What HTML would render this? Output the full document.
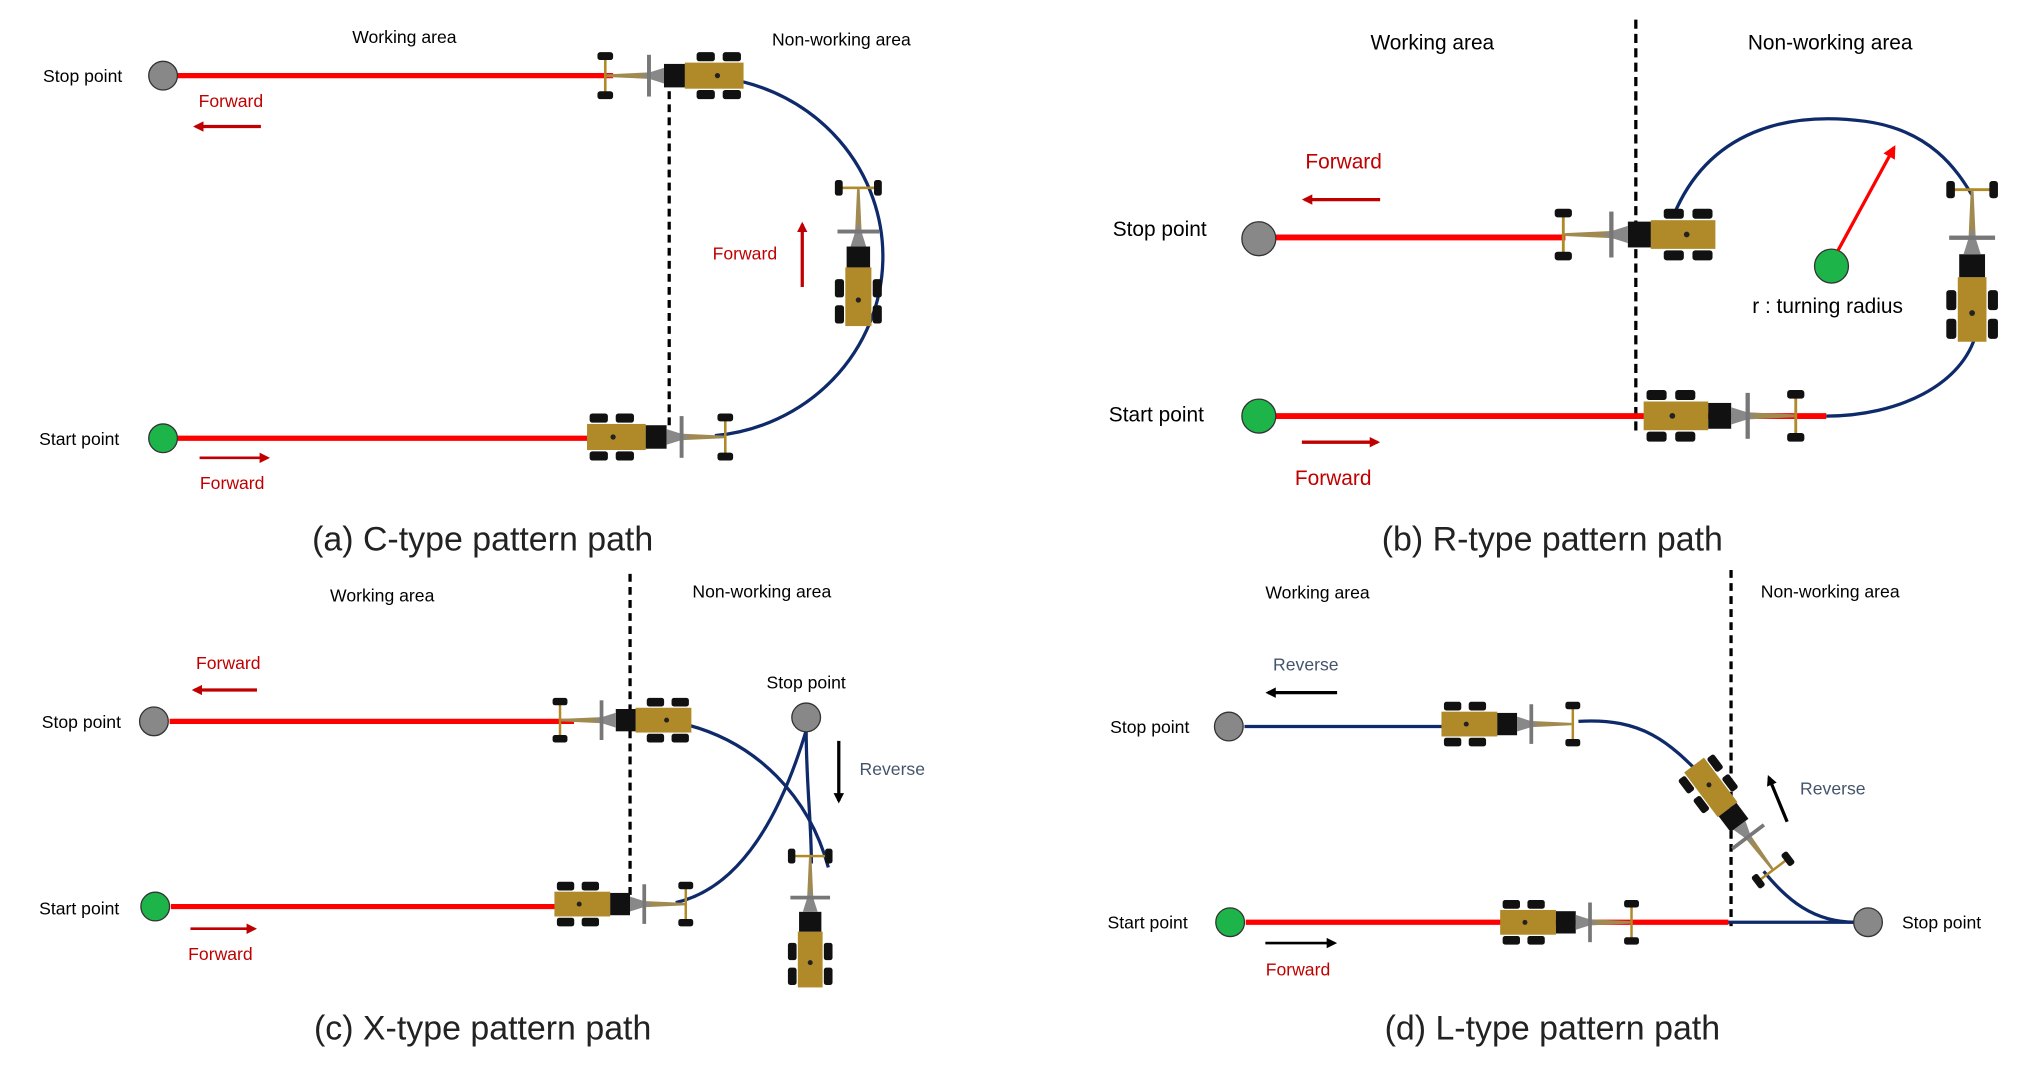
<!DOCTYPE html>
<html><head><meta charset="utf-8"><style>
html,body{margin:0;padding:0;background:#fff;}
svg{display:block;}
text{font-family:"Liberation Sans","NanumGothic",sans-serif;}
.l{font-size:13.5px;fill:#000;}
.lb{font-size:16px;fill:#000;}
.r{font-size:13.5px;fill:#c00000;}
.rb{font-size:16px;fill:#c00000;}
.g{font-size:13.5px;fill:#44546a;}
.cap{font-size:26px;fill:#222;font-weight:300;}
</style></head><body>
<svg width="2035" height="1067" viewBox="0 0 1560 818" preserveAspectRatio="none" xmlns="http://www.w3.org/2000/svg">
<defs>
<marker id="ar" markerWidth="8" markerHeight="8" refX="6" refY="4" orient="auto" markerUnits="userSpaceOnUse"><path d="M0,0 L8,4 L0,8 z" fill="#c00000"/></marker>
<marker id="ak" markerWidth="8" markerHeight="8" refX="6" refY="4" orient="auto" markerUnits="userSpaceOnUse"><path d="M0,0 L8,4 L0,8 z" fill="#000"/></marker>
<marker id="ar2" markerWidth="10" markerHeight="10" refX="8" refY="5" orient="auto" markerUnits="userSpaceOnUse"><path d="M0,0 L10,5 L0,10 z" fill="#f00"/></marker>
<g id="gr">
<rect x="2" y="0" width="14" height="7" rx="2" fill="#111"/>
<rect x="22" y="0" width="14" height="7" rx="2" fill="#111"/>
<rect x="2" y="29" width="14" height="7" rx="2" fill="#111"/>
<rect x="22" y="29" width="14" height="7" rx="2" fill="#111"/>
<rect x="0" y="8" width="45" height="20" fill="#b08a28"/>
<rect x="45" y="9" width="16" height="18" fill="#111"/>
<path d="M61,15 L105,17 L105,19 L61,21 z" fill="#a08a50"/>
<path d="M61,12 L80,18 L61,24 z" fill="#888"/>
<rect x="71" y="2" width="3" height="32" fill="#777"/>
<rect x="105" y="4" width="2" height="28" fill="#b08a28"/>
<rect x="100" y="0" width="12" height="6" rx="2" fill="#111"/>
<rect x="100" y="30" width="12" height="6" rx="2" fill="#111"/>
<circle cx="20" cy="18" r="2" fill="#222"/>
</g>
</defs>

<!-- (a) -->
<text class="l" x="310" y="33" text-anchor="middle">Working area</text>
<text class="l" x="645" y="35" text-anchor="middle">Non-working area</text>
<line x1="513" y1="50" x2="513" y2="332" stroke="#000" stroke-width="2.5" stroke-dasharray="6,4"/>
<line x1="136" y1="58" x2="470" y2="58" stroke="#f00" stroke-width="4"/>
<line x1="136" y1="336" x2="455" y2="336" stroke="#f00" stroke-width="4"/>
<path d="M555,60 A142 138 0 0 1 548,334" fill="none" stroke="#0e2a6a" stroke-width="2.5"/>
<circle cx="125" cy="58" r="11" fill="#888" stroke="#333"/>
<circle cx="125" cy="336" r="11" fill="#1db54a" stroke="#333"/>
<text class="l" x="33" y="63">Stop point</text>
<text class="l" x="30" y="341">Start point</text>
<text class="r" x="177" y="82" text-anchor="middle">Forward</text>
<line x1="200" y1="97" x2="150" y2="97" stroke="#c00000" stroke-width="2.5" marker-end="url(#ar)"/>
<text class="r" x="178" y="375" text-anchor="middle">Forward</text>
<line x1="153" y1="351" x2="205" y2="351" stroke="#c00000" stroke-width="2" marker-end="url(#ar)"/>
<text class="r" x="571" y="199" text-anchor="middle">Forward</text>
<line x1="615" y1="220" x2="615" y2="172" stroke="#c00000" stroke-width="2.5" marker-end="url(#ar)"/>
<use href="#gr" transform="translate(570,40) scale(-1,1)"/>
<use href="#gr" transform="translate(450,317)"/>
<use href="#gr" transform="translate(640,250) rotate(-90)"/>
<text class="cap" x="370" y="422" text-anchor="middle">(a) C-type pattern path</text>

<!-- (b) -->
<text class="lb" x="1098" y="38" text-anchor="middle">Working area</text>
<text class="lb" x="1403" y="38" text-anchor="middle">Non-working area</text>
<line x1="1254" y1="15" x2="1254" y2="332" stroke="#000" stroke-width="2.5" stroke-dasharray="7,4"/>
<line x1="978" y1="182" x2="1200" y2="182" stroke="#f00" stroke-width="4.5"/>
<line x1="978" y1="319" x2="1400" y2="319" stroke="#f00" stroke-width="4.5"/>
<path d="M1283,165 C1310,100 1370,85 1430,93 C1480,100 1500,130 1512,150" fill="none" stroke="#0e2a6a" stroke-width="2.5"/>
<path d="M1515,255 C1505,295 1455,319 1400,319" fill="none" stroke="#0e2a6a" stroke-width="2.5"/>
<circle cx="965" cy="183" r="13" fill="#888" stroke="#333"/>
<circle cx="965" cy="319" r="13" fill="#1db54a" stroke="#333"/>
<circle cx="1404" cy="204" r="13" fill="#1db54a" stroke="#333"/>
<line x1="1409" y1="192" x2="1452" y2="113" stroke="#f00" stroke-width="2.5" marker-end="url(#ar2)"/>
<text class="lb" x="1401" y="240" text-anchor="middle">r : turning radius</text>
<text class="lb" x="853" y="181">Stop point</text>
<text class="lb" x="850" y="323">Start point</text>
<text class="rb" x="1030" y="129" text-anchor="middle">Forward</text>
<line x1="1058" y1="153" x2="1000" y2="153" stroke="#c00000" stroke-width="2.5" marker-end="url(#ar)"/>
<text class="rb" x="1022" y="372" text-anchor="middle">Forward</text>
<line x1="998" y1="339" x2="1056" y2="339" stroke="#c00000" stroke-width="2.5" marker-end="url(#ar)"/>
<use href="#gr" transform="translate(1315,160) scale(-1.1,1.1)"/>
<use href="#gr" transform="translate(1260,299) scale(1.1)"/>
<use href="#gr" transform="translate(1492,262) rotate(-90) scale(1.1)"/>
<text class="cap" x="1190" y="422" text-anchor="middle">(b) R-type pattern path</text>

<!-- (c) -->
<text class="l" x="293" y="461" text-anchor="middle">Working area</text>
<text class="l" x="584" y="458" text-anchor="middle">Non-working area</text>
<line x1="483" y1="440" x2="483" y2="690" stroke="#000" stroke-width="2.5" stroke-dasharray="6,4"/>
<line x1="130" y1="553" x2="440" y2="553" stroke="#f00" stroke-width="4"/>
<line x1="131" y1="695" x2="428" y2="695" stroke="#f00" stroke-width="4"/>
<path d="M528,556 C580,570 620,610 635,665" fill="none" stroke="#0e2a6a" stroke-width="2.5"/>
<path d="M518,692 C570,680 600,620 618,560" fill="none" stroke="#0e2a6a" stroke-width="2.5"/>
<path d="M618,560 C618,600 622,630 622,662" fill="none" stroke="#0e2a6a" stroke-width="2.5"/>
<circle cx="118" cy="553" r="11" fill="#888" stroke="#333"/>
<circle cx="119" cy="695" r="11" fill="#1db54a" stroke="#333"/>
<circle cx="618" cy="550" r="11" fill="#888" stroke="#333"/>
<text class="l" x="32" y="558">Stop point</text>
<text class="l" x="30" y="701">Start point</text>
<text class="l" x="618" y="528" text-anchor="middle">Stop point</text>
<text class="g" x="684" y="594" text-anchor="middle">Reverse</text>
<line x1="643" y1="568" x2="643" y2="614" stroke="#000" stroke-width="2.5" marker-end="url(#ak)"/>
<text class="r" x="175" y="513" text-anchor="middle">Forward</text>
<line x1="197" y1="529" x2="149" y2="529" stroke="#c00000" stroke-width="2.5" marker-end="url(#ar)"/>
<text class="r" x="169" y="736" text-anchor="middle">Forward</text>
<line x1="146" y1="712" x2="195" y2="712" stroke="#c00000" stroke-width="2" marker-end="url(#ar)"/>
<use href="#gr" transform="translate(530,535) scale(-0.95,0.95)"/>
<use href="#gr" transform="translate(425,676) scale(0.95)"/>
<use href="#gr" transform="translate(604,757) rotate(-90) scale(0.95)"/>
<text class="cap" x="370" y="797" text-anchor="middle">(c) X-type pattern path</text>

<!-- (d) -->
<text class="l" x="1010" y="459" text-anchor="middle">Working area</text>
<text class="l" x="1403" y="458" text-anchor="middle">Non-working area</text>
<line x1="1327" y1="437" x2="1327" y2="710" stroke="#000" stroke-width="2.5" stroke-dasharray="6,4"/>
<line x1="954" y1="557" x2="1110" y2="557" stroke="#0e2a6a" stroke-width="2.5"/>
<path d="M1210,553 C1260,550 1280,570 1305,595" fill="none" stroke="#0e2a6a" stroke-width="2.5"/>
<path d="M1352,668 C1370,690 1390,707 1422,707" fill="none" stroke="#0e2a6a" stroke-width="2.5"/>
<line x1="955" y1="707" x2="1325" y2="707" stroke="#f00" stroke-width="4"/>
<line x1="1325" y1="707" x2="1422" y2="707" stroke="#0e2a6a" stroke-width="2.5"/>
<circle cx="942" cy="557" r="11" fill="#888" stroke="#333"/>
<circle cx="943" cy="707" r="11" fill="#1db54a" stroke="#333"/>
<circle cx="1432" cy="707" r="11" fill="#888" stroke="#333"/>
<text class="l" x="851" y="562">Stop point</text>
<text class="l" x="849" y="712">Start point</text>
<text class="l" x="1458" y="712">Stop point</text>
<text class="g" x="1001" y="514" text-anchor="middle">Reverse</text>
<line x1="1025" y1="531" x2="972" y2="531" stroke="#000" stroke-width="2.5" marker-end="url(#ak)"/>
<text class="g" x="1405" y="609" text-anchor="middle">Reverse</text>
<line x1="1370" y1="630" x2="1356" y2="596" stroke="#000" stroke-width="2.5" marker-end="url(#ak)"/>
<text class="r" x="995" y="748" text-anchor="middle">Forward</text>
<line x1="970" y1="723" x2="1023" y2="723" stroke="#000" stroke-width="2" marker-end="url(#ak)"/>
<use href="#gr" transform="translate(1105,538) scale(0.95)"/>
<use href="#gr" transform="translate(1150,690) scale(0.95)"/>
<use href="#gr" transform="translate(1330,628) rotate(53) translate(-52,-17) scale(0.95)"/>
<text class="cap" x="1190" y="797" text-anchor="middle">(d) L-type pattern path</text>
</svg>
</body></html>
